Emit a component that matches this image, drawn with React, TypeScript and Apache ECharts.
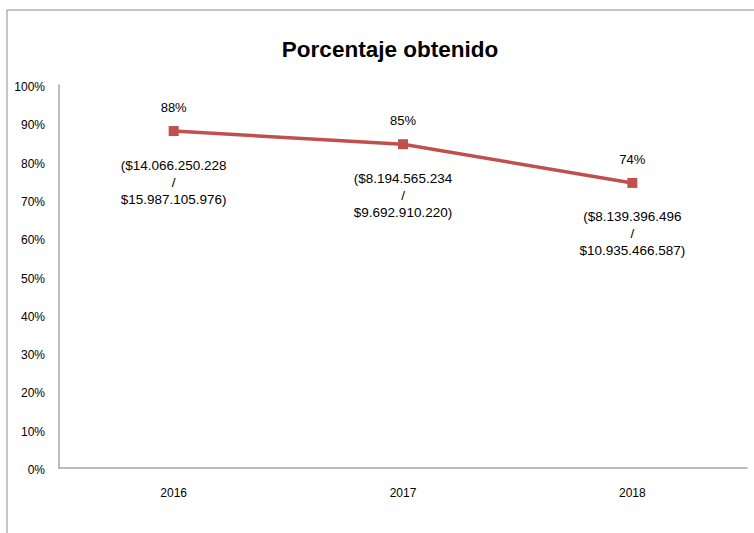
import React, { useEffect, useRef } from "react";
import * as echarts from "echarts";

const years = ["2016", "2017", "2018"];
const percentages = [87.98, 84.54, 74.43];
const percentLabels = ["88%", "85%", "74%"];
const obtained = ["$14.066.250.228", "$8.194.565.234", "$8.139.396.496"];
const totals = ["$15.987.105.976", "$9.692.910.220", "$10.935.466.587"];
const yTicks = [0, 10, 20, 30, 40, 50, 60, 70, 80, 90, 100];

const FONT = "'Liberation Sans', Arial, sans-serif";
const RED = "#C0504D";

export default function App() {
  const ref = useRef<HTMLDivElement>(null);
  useEffect(() => {
    document.body.style.margin = "0";
    const chart = echarts.init(ref.current!, undefined, { renderer: "svg" });
    chart.setOption({
      animation: false,
      backgroundColor: "#ffffff",
      title: {
        text: "Porcentaje obtenido",
        left: 385,
        top: 33,
        textAlign: "center",
        textStyle: { fontFamily: FONT, fontSize: 22.5, fontWeight: "bold", color: "#000" },
      },
      graphic: [
        {
          type: "rect",
          shape: { x: 7, y: 10, width: 800, height: 600 },
          style: { fill: "none", stroke: "#8c8c8c", lineWidth: 1 },
          silent: true,
          z: -1,
        },
      ],
      grid: { left: 59, right: 7, top: 85, bottom: 65, containLabel: false },
      xAxis: {
        type: "category",
        data: years,
        boundaryGap: true,
        axisLine: { show: true, lineStyle: { color: "#a6a6a6", width: 1.5 } },
        axisTick: { show: false },
        axisLabel: { fontFamily: FONT, fontSize: 12, color: "#000", margin: 19 },
        splitLine: { show: false },
      },
      yAxis: {
        type: "value",
        min: 0,
        max: 100,
        interval: 10,
        axisLine: { show: true, lineStyle: { color: "#a6a6a6", width: 1.5 } },
        axisTick: { show: false },
        splitLine: { show: false },
        axisLabel: {
          fontFamily: FONT,
          fontSize: 12,
          color: "#000",
          margin: 14,
          verticalAlign: "top",
          padding: [-4, 0, 0, 0],
          formatter: (v: number) => (yTicks.includes(v) ? `${v}%` : ""),
        },
      },
      series: [
        {
          type: "line",
          data: percentages,
          symbol: "rect",
          symbolSize: 10,
          lineStyle: { color: RED, width: 3.5 },
          itemStyle: { color: RED },
          label: {
            show: true,
            position: "top",
            distance: 12,
            fontFamily: FONT,
            fontSize: 13,
            color: "#000",
            formatter: (p: any) => percentLabels[p.dataIndex],
          },
          z: 3,
        },
        {
          type: "line",
          data: percentages,
          symbol: "circle",
          symbolSize: 1,
          lineStyle: { opacity: 0 },
          itemStyle: { color: "transparent" },
          label: {
            show: true,
            position: "bottom",
            distance: 25,
            fontFamily: FONT,
            fontSize: 13.5,
            lineHeight: 17,
            color: "#000",
            align: "center",
            formatter: (p: any) => `(${obtained[p.dataIndex]}\n/\n${totals[p.dataIndex]})`,
          },
          silent: true,
          z: 2,
        },
      ],
    });
    return () => chart.dispose();
  }, []);
  return <div ref={ref} style={{ width: 754, height: 533 }} />;
}
